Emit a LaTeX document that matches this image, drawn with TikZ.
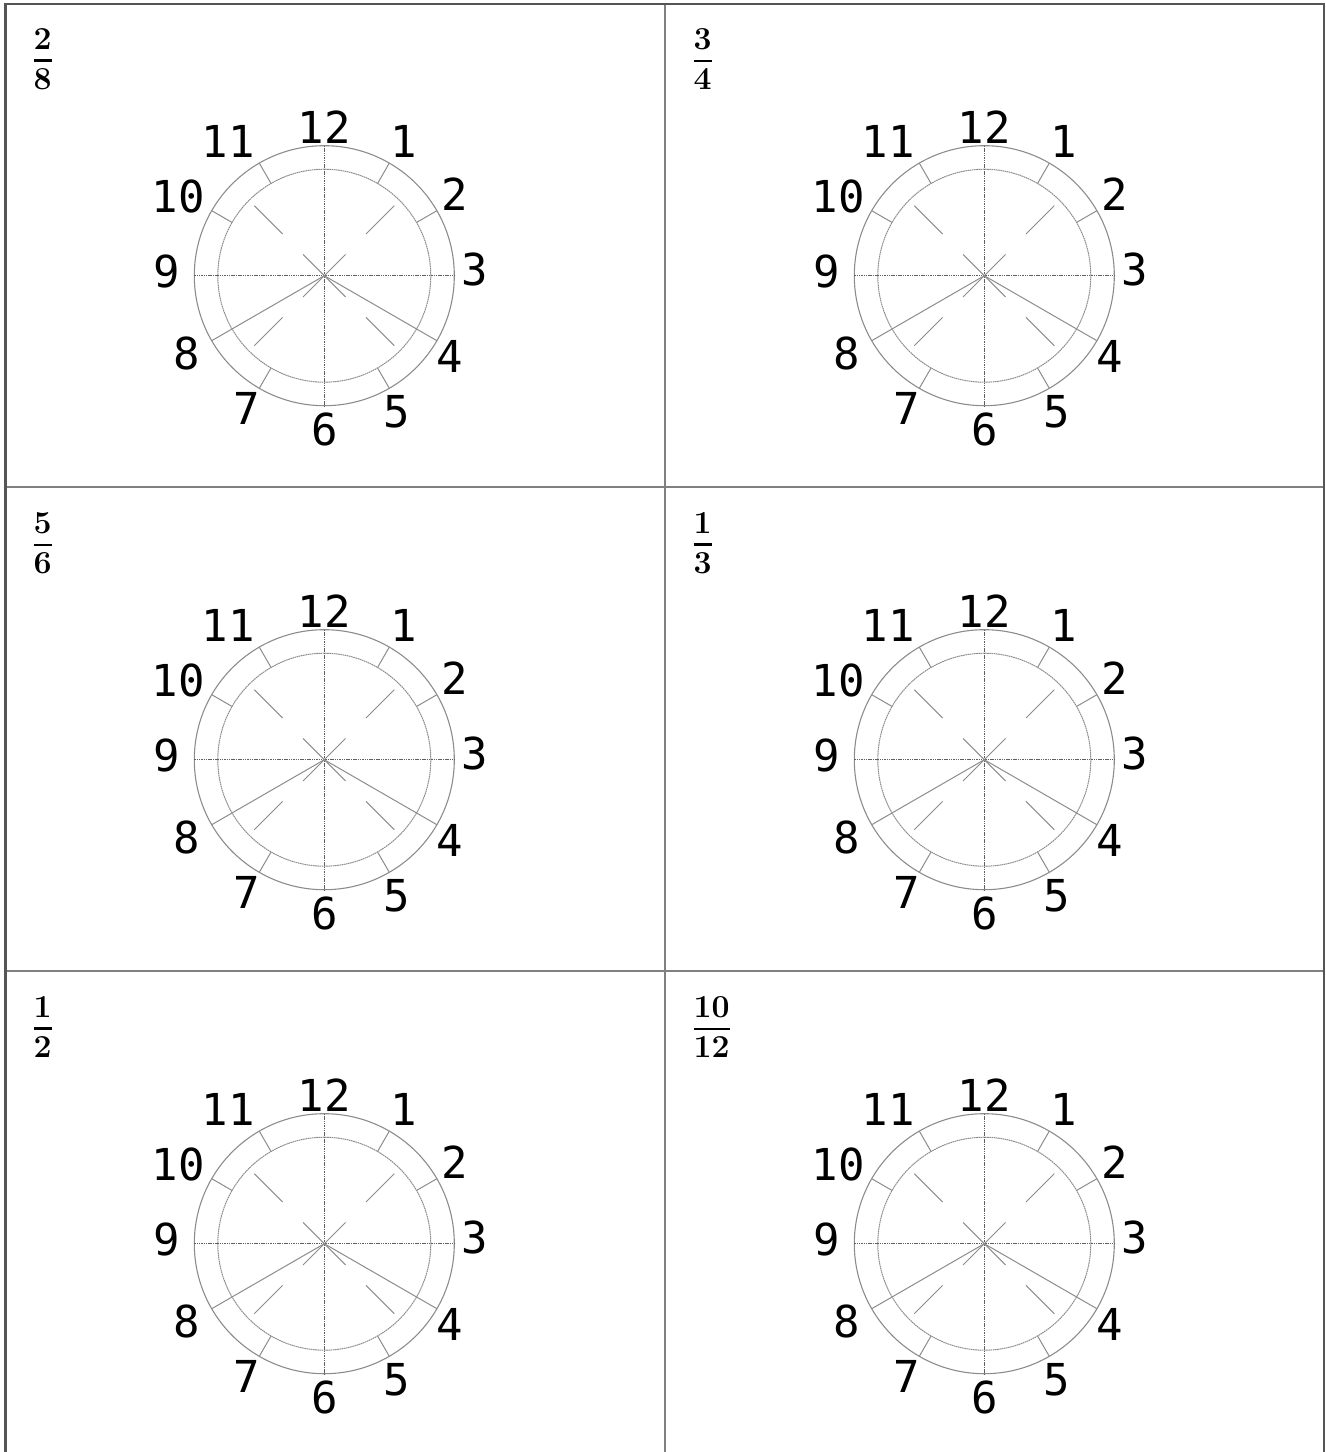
\documentclass[tikz,border=0pt]{standalone}
\usepackage{fontspec}
\newfontfamily\clockfont{DejaVu Sans Mono}
\definecolor{clockgray}{RGB}{140,140,140}
\definecolor{axisgray}{RGB}{95,95,95}
\definecolor{gridgray}{RGB}{128,128,128}
\definecolor{bordergray}{RGB}{85,85,85}
\newdimen\fracwd
\newcommand{\stackfrac}[2]{%
  \setbox0=\hbox{#1}\setbox2=\hbox{#2}%
  \fracwd=\wd0 \ifdim\wd2>\fracwd \fracwd=\wd2 \fi
  \vbox{\offinterlineskip\halign{\hfil##\hfil\cr\box0\cr\noalign{\kern9.5pt}\vrule width\fracwd height2.8pt depth0pt\cr\noalign{\kern6.3pt}\box2\cr}}}
\begin{document}
\begin{tikzpicture}[x=1pt,y=-1pt]
\useasboundingbox (0,0) rectangle (1326,1452);
\tikzset{
  rim/.style={draw=clockgray, line width=1.1pt},
  innerrim/.style={draw=clockgray, line width=1pt, dash pattern=on 1.6pt off 0.6pt},
  axisline/.style={draw=axisgray, line width=0.9pt, dash pattern=on 1.5pt off 0.8pt},
  hand/.style={draw=clockgray, line width=1pt},
  hourlabel/.style={font=\clockfont\fontsize{44}{44}\selectfont, inner sep=0pt, anchor=center},
  fraclabel/.style={font=\bfseries\fontsize{32}{32}\selectfont, inner sep=0pt, anchor=north west},
  gridline/.style={draw=gridgray, line width=2pt},
  borderline/.style={draw=bordergray, line width=2.6pt},
}
% table grid
\coordinate (vtop) at (665,4);
\coordinate (vbot) at (665,1452);
\coordinate (h1l) at (5.5,487);
\coordinate (h1r) at (1324,487);
\coordinate (h2l) at (5.5,971);
\coordinate (h2r) at (1324,971);
\coordinate (bl) at (5.5,1452);
\coordinate (tl) at (5.5,4);
\coordinate (tr) at (1324,4);
\coordinate (br) at (1324,1452);
\draw[gridline] (vtop) -- (vbot);
\draw[gridline] (h1l) -- (h1r);
\draw[gridline] (h2l) -- (h2r);
\draw[borderline] (bl) -- (tl) -- (tr) -- (br);
% cells
\foreach \n/\cx/\cy/\num/\den in {1/0/0/2/8, 2/660/0/3/4, 3/0/484/5/6, 4/660/484/1/3, 5/0/968/1/2, 6/660/968/10/12} {
  \begin{scope}[shift={(\cx,\cy)}]
    \node[fraclabel] (frac\n) at (33.5,28.5) {\stackfrac{\num}{\den}};
    \coordinate (ctr\n) at (324.3,275.7);
  \end{scope}
  \begin{scope}[shift={(ctr\n)}]
    \draw[rim] (0,0) circle[radius=130pt];
    \draw[innerrim] (0,0) circle[radius=106.5pt];
    \draw[axisline] (-90:130) -- (90:130);
    \draw[axisline] (180:130) -- (0:130);
    \foreach \h in {1,2,5,7,10,11}
      \draw[hand] ({30*\h-90}:106.5) -- ({30*\h-90}:130);
    \foreach \h in {4,8}
      \draw[hand] (0,0) -- ({30*\h-90}:130);
    \foreach \a in {-45,45,135,225}
      \draw[hand] (\a:59) -- (\a:99);
    \draw[hand] (-45:30) -- (135:30);
    \draw[hand] (45:30) -- (225:30);
    \foreach \h/\dx/\dy in {12/0/-149, 1/79/-134, 2/130/-82, 3/150/-6, 4/125/81, 5/72/136, 6/0/154, 7/-78/133, 8/-138/78, 9/-158/-4, 10/-146/-79, 11/-96/-134}
      \node[hourlabel] (lab\n-\h) at (\dx,\dy) {\h};
  \end{scope}
}
\end{tikzpicture}
\end{document}
